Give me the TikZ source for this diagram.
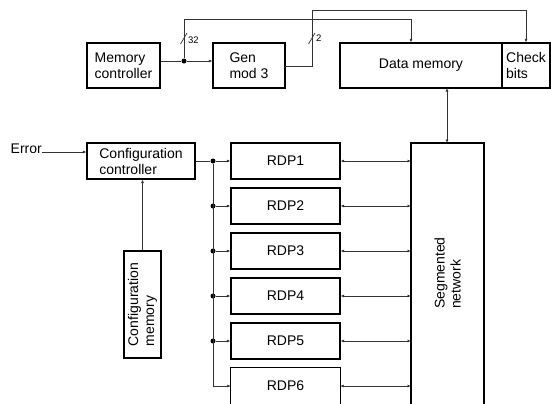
\documentclass[tikz,border=0pt]{standalone}
\usepackage{fontspec}
\setmainfont{Liberation Sans}
\usetikzlibrary{arrows.meta,calc}
\begin{document}
\begin{tikzpicture}[x=1bp,y=-1bp,
  box/.style={draw=black,line width=1.2bp,inner sep=0pt,font=\fontsize{14bp}{16bp}\selectfont},
  wire/.style={draw=black!80,line width=0.7bp},
  arr/.style={wire,-{Latex[length=3.5bp,width=3bp]}},
  barr/.style={wire,{Latex[length=3.5bp,width=3bp]}-{Latex[length=3.5bp,width=3bp]}},
  dot/.style={circle,fill=black,inner sep=0pt,minimum size=5bp},
  small/.style={font=\fontsize{9.5bp}{11bp}\selectfont,inner sep=0pt}]
\useasboundingbox (0,0) rectangle (551,403);
% top row
\node[box,minimum width=73bp,minimum height=45bp,align=left] (mc) at (123.5,65.5) {Memory\\controller};
\node[box,minimum width=72bp,minimum height=45bp,align=left] (gen) at (249,65.5) {Gen\\mod 3};
\node[box,minimum width=162bp,minimum height=45bp] (dm) at (421,65.5) {Data memory};
\node[box,minimum width=48bp,minimum height=45bp,align=left] (cb) at (526,65.5) {Check\\bits};
% memory controller to gen mod 3
\node[dot] (j0) at (184,61) {};
\draw[wire] (mc.east |- j0) -- (j0);
\draw[arr] (j0) -- (gen.west |- j0);
\coordinate (c1) at (184,19);
\coordinate (c2) at (411,19);
\draw[arr] (j0) -- (c1) -- (c2) -- (c2 |- dm.north);
\coordinate (s1a) at (180.5,44);
\coordinate (s1b) at (187,33);
\draw[wire] (s1a) -- (s1b);
\node[small,anchor=west] (l32) at (188,40) {32};
% gen mod 3 to check bits
\coordinate (g0) at (285,66);
\coordinate (g1) at (312,66);
\coordinate (g2) at (312,10);
\coordinate (g3) at (526,10);
\draw[arr] (g0) -- (g1) -- (g2) -- (g3) -- (g3 |- cb.north);
\coordinate (s2a) at (308.5,44);
\coordinate (s2b) at (315,33);
\draw[wire] (s2a) -- (s2b);
\node[small,anchor=west] (l2) at (316,38) {2};
% segmented network
\coordinate (sn1) at (411,404);
\coordinate (sn2) at (411,143);
\coordinate (sn3) at (484,143);
\coordinate (sn4) at (484,404);
\draw[line width=1.2bp] (sn1) -- (sn2) -- (sn3) -- (sn4);
\node[inner sep=0pt,rotate=90,align=left,font=\fontsize{14bp}{16bp}\selectfont] (snt) at (447.5,273) {Segmented\\network};
\draw[barr] (447,88) -- (sn2 -| 447,0);
% configuration
\node[box,minimum width=108bp,minimum height=36bp,align=left] (cc) at (141,161) {Configuration\\controller};
\node[inner sep=0pt,font=\fontsize{14bp}{16bp}\selectfont,anchor=base east] (err) at (42,153) {Error};
\draw[arr] (err.east |- 0,152) -- (cc.west |- 0,152);
\node[box,minimum width=37bp,minimum height=107bp,align=left] (cm) at (142.5,304.5) {};
\node[inner sep=0pt,rotate=90,align=left,font=\fontsize{14bp}{16bp}\selectfont] (cmt) at (cm.center) {Configuration\\memory};
\draw[arr] (cm.north) -- (cc.south -| cm.north);
% RDPs
\foreach \i/\y in {1/161,2/206,3/251,4/296,5/341}{
  \node[box,minimum width=109bp,minimum height=36bp] (r\i) at (285.5,\y) {RDP\i};
  \node[dot] (d\i) at (213,\y) {};
  \draw[arr] (d\i) -- (r\i.west);
  \draw[barr] (r\i.east) -- (sn2 |- r\i.east);
}
\node[inner sep=0pt,minimum width=109bp,minimum height=36bp,font=\fontsize{14bp}{16bp}\selectfont] (r6) at (285.5,386) {RDP6};
\draw[line width=1.2bp] (r6.south west) -- (r6.north west) -- (r6.north east) -- (r6.south east);
\coordinate (d6) at (213,386);
\draw[arr] (d6) -- (r6.west);
\draw[barr] (r6.east) -- (sn2 |- r6.east);
\draw[wire] (cc.east) -- (d1);
\draw[wire] (d1) -- (d6);
\end{tikzpicture}
\end{document}
